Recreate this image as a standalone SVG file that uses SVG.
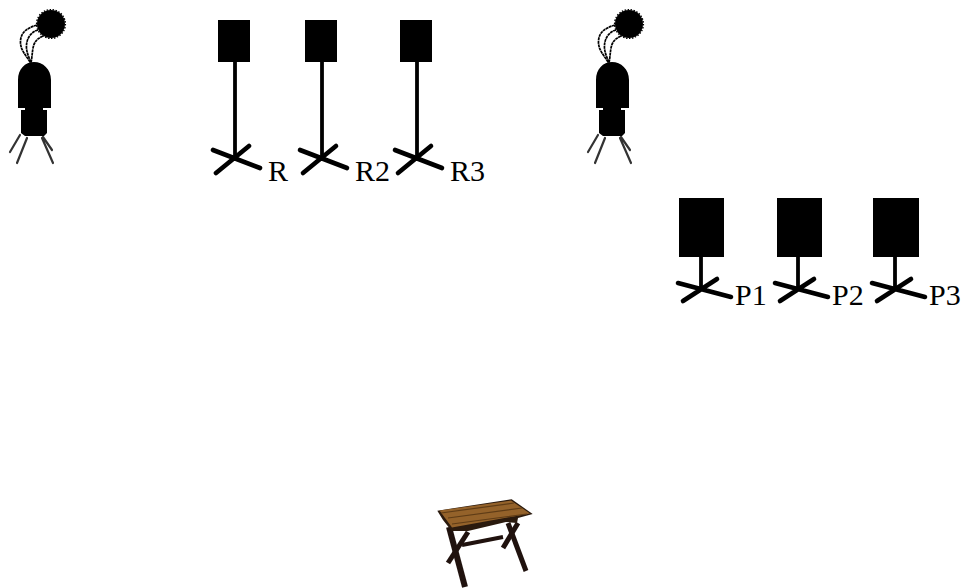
<svg xmlns="http://www.w3.org/2000/svg" width="963" height="588" viewBox="0 0 963 588">
<style>
.l{fill:#000;font-family:"Liberation Serif","Times New Roman",serif;font-size:30px}
.w{fill:none;stroke:#000;stroke-width:1.7;stroke-dasharray:3 .5}
.leg{fill:none;stroke:#000;stroke-width:2.2;opacity:.8;stroke-linecap:round}
.pole{fill:none;stroke:#000;stroke-width:3.8}
.foot{fill:none;stroke:#000;stroke-width:4.6;stroke-linecap:round}
.t{fill:none;stroke:#20120e;stroke-linecap:butt}
</style>
<defs>
<g id="person">
<circle cx="51" cy="24" r="14" fill="#000"/>
<circle cx="51" cy="24" r="14.400" fill="none" stroke="#000" stroke-width="1.400" stroke-dasharray="1.500 1.500"/>
<path class="w" d="M37 25C27 28 21 32 20.500 41C20 50 26 55 30.500 63"/>
<path class="w" d="M38 30C31 32 27 38 26.500 45C26 52 29 57 31 63"/>
<path class="w" d="M43 36C36 39 34 43 33 48C32 54 32 58 31 63"/>
<path d="M18 108V80C18 69 25 62 34 62C43 62 51 69 51 80V108H43V110H47V133L44 136H25L21 133V110H25V108Z" fill="#000"/>
<path class="leg" d="M20 135L10 152M27 138L17 163M42 138L53 163M43 137L52 150"/>
</g>
<g id="standTall">
<path class="pole" d="M0 -95V0"/>
<path class="foot" d="M-22 -7L25 11M14 -11L-19 16"/>
</g>
<g id="standShort">
<path class="pole" d="M0 -32V0"/>
<path class="foot" d="M-23 -5L30 9M16 -9L-18 13"/>
</g>
</defs>
<g id="person-left"><use href="#person"/></g>
<g id="person-right"><use href="#person" x="578"/></g>
<g id="speaker-R">
<rect x="218" y="20" width="32" height="42" fill="#000"/>
<use href="#standTall" x="235" y="157"/>
<text class="l" x="268" y="181">R</text>
</g>
<g id="speaker-R2">
<rect x="305" y="20" width="32" height="42" fill="#000"/>
<use href="#standTall" x="322" y="157"/>
<text class="l" x="355" y="181">R2</text>
</g>
<g id="speaker-R3">
<rect x="400" y="20" width="32" height="42" fill="#000"/>
<use href="#standTall" x="417" y="157"/>
<text class="l" x="450" y="181">R3</text>
</g>
<g id="speaker-P1">
<rect x="679" y="198" width="45" height="59" fill="#000"/>
<use href="#standShort" x="701" y="288"/>
<text class="l" x="735" y="305">P1</text>
</g>
<g id="speaker-P2">
<rect x="777" y="198" width="45" height="59" fill="#000"/>
<use href="#standShort" x="798" y="288"/>
<text class="l" x="832" y="305">P2</text>
</g>
<g id="speaker-P3">
<rect x="873" y="198" width="46" height="59" fill="#000"/>
<use href="#standShort" x="895" y="288"/>
<text class="l" x="929" y="305">P3</text>
</g>
<g id="table">
<path class="t" stroke-width="5" d="M518 523L503 548"/>
<path class="t" stroke-width="4" d="M462 545L503 537"/>
<path class="t" stroke-width="5" d="M508 523L526 571"/>
<path class="t" stroke-width="5" d="M468 532L448 563"/>
<path class="t" stroke-width="6" d="M449 527L465 587"/>
<path d="M437.300 510.700L511.700 499.300L532.700 514L518 518L517 523L506 522L468 531L451.700 531L443 520Z" fill="#2a1a0e"/>
<path d="M439.500 510.500L511 500.500L530 513.500L452 527.500Z" fill="#94622a"/>
<path d="M441 513L514 503M448 518L522 508M452 524L527 514" fill="none" stroke="#5f3c16" stroke-width="1.200"/>
</g>
<g id="connectors"></g>
</svg>
